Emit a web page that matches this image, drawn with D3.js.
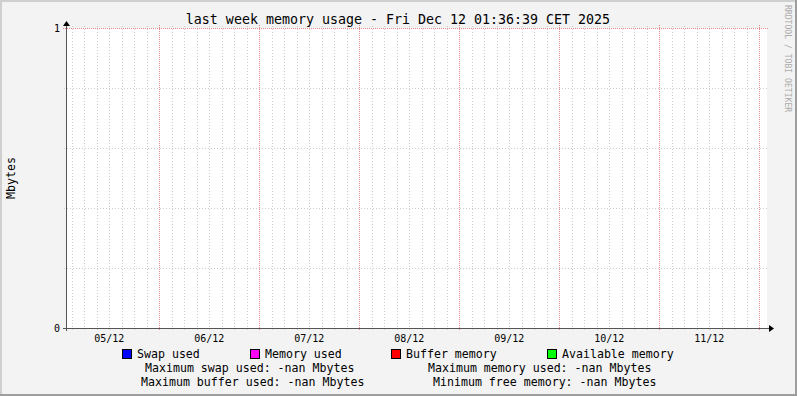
<!DOCTYPE html>
<html><head><meta charset="utf-8">
<script src="https://cdn.jsdelivr.net/npm/d3@7"></script>
<style>html,body{margin:0;padding:0;background:#F3F3F3;}svg{display:block;}</style>
</head><body>
<script>
// ---- data ----
const title = "last week memory usage - Fri Dec 12 01:36:39 CET 2025";
const yAxisTitle = "Mbytes";
const watermark = "RRDTOOL / TOBI OETIKER";
const dayLabels = ["05/12", "06/12", "07/12", "08/12", "09/12", "10/12", "11/12"];
const yTickValues = [0, 1];
const yTickLabels = ["0", "1"];
const yMinorValues = [0.2, 0.4, 0.6, 0.8];
const seriesNames = ["Swap used", "Memory used", "Buffer memory", "Available memory"];
const seriesColors = ["#0000FF", "#FF00FF", "#FF0000", "#00FF00"];
// no samples were recorded (all values are NaN)
const swapUsed = [];
const memoryUsed = [];
const bufferMemory = [];
const availableMemory = [];
const statRow1 = ["Maximum swap used: -nan Mbytes", "Maximum memory used: -nan Mbytes"];
const statRow2 = ["Maximum buffer used: -nan Mbytes", "Minimum free memory: -nan Mbytes"];

// ---- layout ----
const W = 797, H = 396;
const endT = Date.UTC(2025, 11, 12, 1, 36, 39);
const startT = endT - 7 * 24 * 3600 * 1000;
const x = d3.scaleUtc().domain([startT, endT]).range([66, 766]);
const y = d3.scaleLinear().domain([0, 1]).range([328, 28]);
const mono = "'DejaVu Sans Mono', monospace";
const minorColor = "#CDCDCD", majorColor = "#E38C8C";

const svg = d3.select("body").append("svg").attr("width", W).attr("height", H);
// background and 3D border
svg.append("rect").attr("width", W).attr("height", H).attr("fill", "#F3F3F3");
svg.append("rect").attr("x", 0).attr("y", 0).attr("width", W).attr("height", 2).attr("fill", "#CFCFCF");
svg.append("rect").attr("x", 0).attr("y", 0).attr("width", 2).attr("height", H).attr("fill", "#CFCFCF");
svg.append("rect").attr("x", 0).attr("y", H - 2).attr("width", W).attr("height", 2).attr("fill", "#9E9E9E");
svg.append("rect").attr("x", W - 2).attr("y", 0).attr("width", 2).attr("height", H).attr("fill", "#9E9E9E");

// canvas
svg.append("rect").attr("x", 67).attr("y", 28).attr("width", 700).attr("height", 300).attr("fill", "#FFFFFF");

const grid = svg.append("g").attr("shape-rendering", "crispEdges");
const minorT = d3.utcHour.every(3).range(new Date(startT), new Date(endT)).filter(d => d.getUTCHours() !== 0);
const majorT = d3.utcDay.range(new Date(startT), new Date(endT));
grid.selectAll(".vminor").data(minorT).join("line")
  .attr("x1", d => Math.round(x(d)) + 0.5).attr("x2", d => Math.round(x(d)) + 0.5)
  .attr("y1", 26).attr("y2", 330)
  .attr("stroke", minorColor).attr("stroke-dasharray", "1,2");
grid.selectAll(".hminor").data(yMinorValues).join("line")
  .attr("x1", 64).attr("x2", 769)
  .attr("y1", d => Math.round(y(d)) + 0.5).attr("y2", d => Math.round(y(d)) + 0.5)
  .attr("stroke", minorColor).attr("stroke-dasharray", "1,2");
grid.selectAll(".vmajor").data(majorT).join("line")
  .attr("x1", d => Math.round(x(d)) + 0.5).attr("x2", d => Math.round(x(d)) + 0.5)
  .attr("y1", 25).attr("y2", 331)
  .attr("stroke", majorColor).attr("stroke-dasharray", "1,1");
grid.selectAll(".hmajor").data(yTickValues.filter(v => v > 0)).join("line")
  .attr("x1", 63).attr("x2", 769)
  .attr("y1", d => Math.round(y(d)) + 0.5).attr("y2", d => Math.round(y(d)) + 0.5)
  .attr("stroke", majorColor).attr("stroke-dasharray", "1,1");

// series (empty: NaN data)
const area = d3.area().defined(d => d && isFinite(d[1])).x(d => x(d[0])).y0(y(0)).y1(d => y(d[1]));
[swapUsed, memoryUsed, bufferMemory, availableMemory].forEach((s, i) => {
  svg.append("path").datum(s).attr("d", area(s) || "").attr("fill", seriesColors[i]);
});

// axes
const ax = svg.append("g").attr("shape-rendering", "crispEdges");
ax.append("line").attr("x1", 63).attr("x2", 770).attr("y1", 328.5).attr("y2", 328.5).attr("stroke", "#555");
ax.append("line").attr("x1", 66.5).attr("x2", 66.5).attr("y1", 331).attr("y2", 24).attr("stroke", "#555");
svg.append("path").attr("d", "M769,325L774,328.5L769,332Z").attr("fill", "#000");
svg.append("path").attr("d", "M63,26L66.5,21L70,26Z").attr("fill", "#000");

// y tick labels
svg.selectAll(".ylab").data(yTickValues).join("text")
  .attr("x", 60).attr("y", d => y(d) + 3.5).attr("text-anchor", "end")
  .attr("font-family", mono).attr("font-size", "10px").attr("fill", "#000")
  .text((d, i) => yTickLabels[i]);

// x tick labels at midday
const noons = [d3.utcHour.offset(d3.utcDay.floor(new Date(startT)), 12)].concat(majorT.map(d => d3.utcHour.offset(d, 12)));
svg.selectAll(".xlab").data(noons.filter(d => +d > startT && +d < endT)).join("text")
  .attr("x", d => x(d)).attr("y", 341.5).attr("text-anchor", "middle")
  .attr("font-family", mono).attr("font-size", "10px").attr("fill", "#000")
  .text((d, i) => dayLabels[i]);

// title
svg.append("text").attr("x", 398).attr("y", 23.5).attr("text-anchor", "middle")
  .attr("font-family", mono).attr("font-size", "13.3px").attr("fill", "#000").text(title);

// y axis title
svg.append("text").attr("transform", "translate(15,178) rotate(-90)").attr("text-anchor", "middle")
  .attr("font-family", mono).attr("font-size", "11.6px").attr("fill", "#000").text(yAxisTitle);

// watermark
svg.append("text").attr("transform", "translate(784.5,5) rotate(90)").attr("text-anchor", "start")
  .attr("font-family", mono).attr("font-size", "8.1px").attr("fill", "#ABABAB").text(watermark);

// legend
const legX = [122, 250, 391, 547];
seriesNames.forEach((n, i) => {
  svg.append("rect").attr("x", legX[i] + 0.5).attr("y", 349.5).attr("width", 9).attr("height", 9)
    .attr("fill", seriesColors[i]).attr("stroke", "#000").attr("stroke-width", 1).attr("shape-rendering", "crispEdges");
  svg.append("text").attr("x", legX[i] + 15).attr("y", 358).attr("font-family", mono)
    .attr("font-size", "11.6px").attr("fill", "#000").text(n);
});
const s1X = [145, 428], s2X = [141, 433];
statRow1.forEach((t, i) => svg.append("text").attr("x", s1X[i]).attr("y", 372).attr("font-family", mono)
  .attr("font-size", "11.6px").attr("fill", "#000").text(t));
statRow2.forEach((t, i) => svg.append("text").attr("x", s2X[i]).attr("y", 386).attr("font-family", mono)
  .attr("font-size", "11.6px").attr("fill", "#000").text(t));
</script>
</body></html>
